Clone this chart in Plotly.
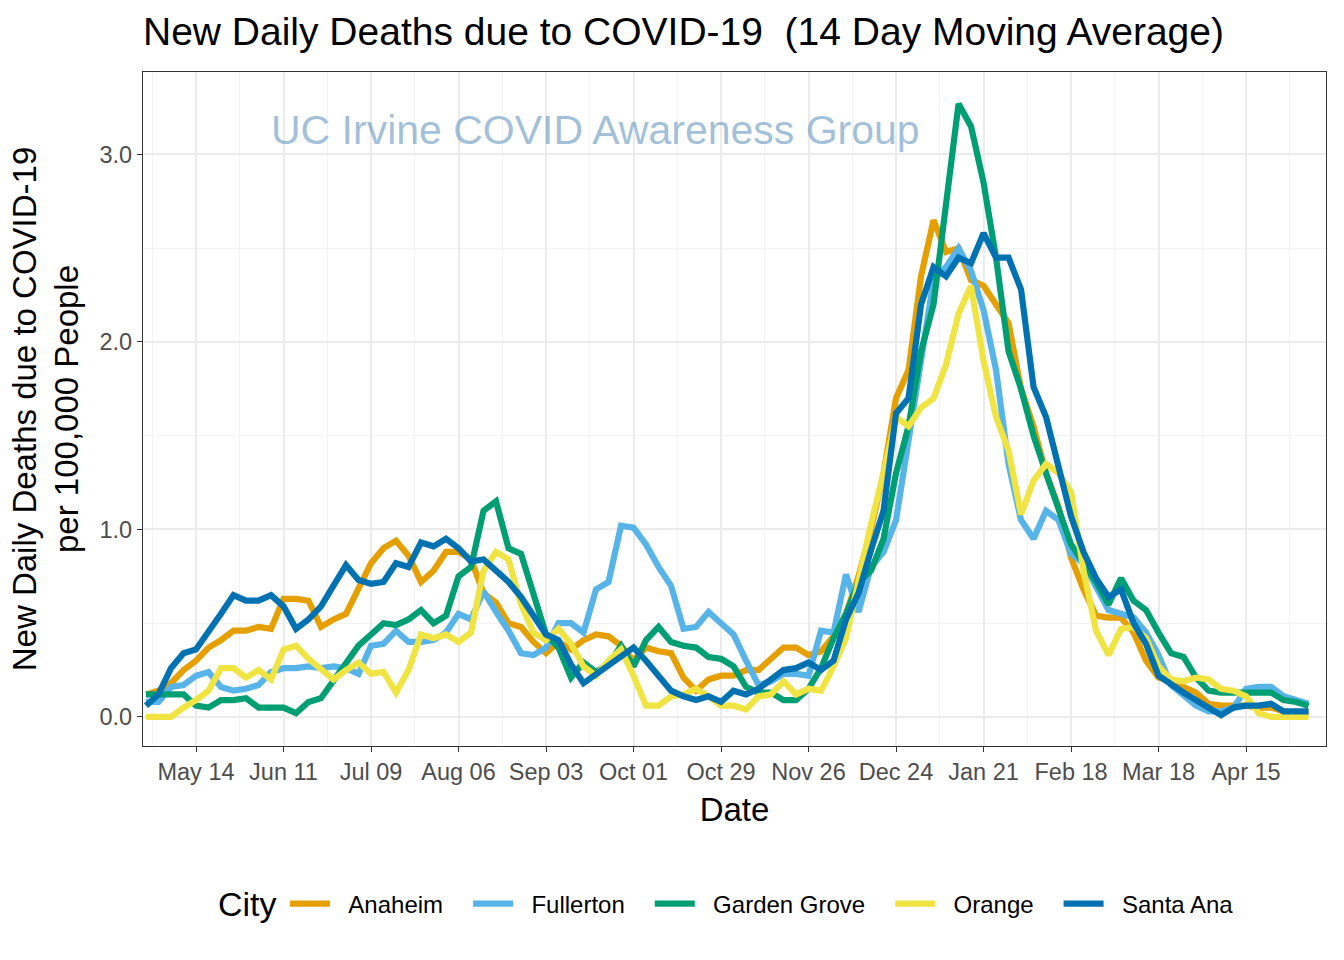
import pandas as pd
import plotly.graph_objects as go

# Sample dates (every 4 days), Apr 28 2020 .. May 5 2021
dates = pd.date_range("2020-04-28", periods=94, freq="4D")

cities = ["Anaheim", "Fullerton", "Garden Grove", "Orange", "Santa Ana"]

anaheim = [
    0.12, 0.14, 0.18, 0.25, 0.30, 0.37, 0.41, 0.46, 0.46, 0.48,
    0.47, 0.63, 0.63, 0.62, 0.48, 0.52, 0.55, 0.68, 0.82, 0.90,
    0.94, 0.86, 0.72, 0.78, 0.88, 0.88, 0.84, 0.66, 0.61, 0.50,
    0.48, 0.40, 0.34, 0.40, 0.36, 0.41, 0.44, 0.43, 0.38, 0.30,
    0.37, 0.35, 0.34, 0.21, 0.14, 0.20, 0.22, 0.22, 0.25, 0.25,
    0.31, 0.37, 0.37, 0.33, 0.35, 0.43, 0.55, 0.75, 1.00, 1.30,
    1.70, 1.85, 2.35, 2.65, 2.48, 2.50, 2.33, 2.30, 2.20, 2.10,
    1.75, 1.55, 1.30, 1.12, 0.85, 0.68, 0.54, 0.53, 0.53, 0.45,
    0.30, 0.21, 0.19, 0.16, 0.13, 0.07, 0.06, 0.06, 0.06, 0.05,
    0.05, 0.03, 0.02, 0.02,
]

fullerton = [
    0.08, 0.08, 0.16, 0.17, 0.22, 0.24, 0.16, 0.14, 0.15, 0.17,
    0.24, 0.26, 0.26, 0.27, 0.26, 0.27, 0.26, 0.23, 0.38, 0.39,
    0.46, 0.40, 0.40, 0.41, 0.45, 0.55, 0.52, 0.67, 0.56, 0.46,
    0.34, 0.33, 0.37, 0.50, 0.50, 0.45, 0.68, 0.72, 1.02, 1.01,
    0.92, 0.80, 0.70, 0.47, 0.48, 0.56, 0.50, 0.44, 0.30, 0.17,
    0.19, 0.23, 0.23, 0.22, 0.46, 0.45, 0.76, 0.56, 0.80, 0.88,
    1.05, 1.45, 1.90, 2.33, 2.40, 2.50, 2.38, 2.17, 1.85, 1.35,
    1.05, 0.95, 1.10, 1.05, 0.87, 0.82, 0.70, 0.57, 0.55, 0.53,
    0.45, 0.33, 0.17, 0.12, 0.06, 0.03, 0.03, 0.05, 0.15, 0.16,
    0.16, 0.11, 0.09, 0.07,
]

garden_grove = [
    0.12, 0.12, 0.12, 0.12, 0.06, 0.05, 0.09, 0.09, 0.10, 0.05,
    0.05, 0.05, 0.02, 0.08, 0.10, 0.19, 0.28, 0.38, 0.44, 0.50,
    0.49, 0.52, 0.57, 0.50, 0.54, 0.75, 0.80, 1.10, 1.15, 0.90,
    0.87, 0.65, 0.44, 0.37, 0.21, 0.29, 0.24, 0.28, 0.38, 0.27,
    0.41, 0.48, 0.40, 0.38, 0.37, 0.32, 0.31, 0.27, 0.16, 0.13,
    0.13, 0.09, 0.09, 0.15, 0.26, 0.42, 0.55, 0.72, 0.78, 0.95,
    1.30, 1.55, 1.95, 2.20, 2.75, 3.27, 3.15, 2.85, 2.45, 1.95,
    1.75, 1.50, 1.30, 1.10, 0.92, 0.82, 0.72, 0.60, 0.74, 0.62,
    0.57, 0.45, 0.34, 0.32, 0.21, 0.14, 0.13, 0.13, 0.13, 0.13,
    0.13, 0.09, 0.08, 0.06,
]

orange = [
    0.00, 0.00, 0.00, 0.05, 0.09, 0.14, 0.26, 0.26, 0.21, 0.25,
    0.20, 0.36, 0.38, 0.31, 0.25, 0.20, 0.25, 0.29, 0.23, 0.24,
    0.13, 0.25, 0.44, 0.42, 0.44, 0.40, 0.45, 0.78, 0.88, 0.84,
    0.60, 0.45, 0.41, 0.47, 0.39, 0.27, 0.22, 0.30, 0.36, 0.22,
    0.06, 0.06, 0.11, 0.12, 0.15, 0.11, 0.06, 0.06, 0.04, 0.11,
    0.12, 0.19, 0.12, 0.15, 0.14, 0.27, 0.42, 0.73, 1.03, 1.30,
    1.60, 1.55, 1.65, 1.70, 1.88, 2.15, 2.30, 1.90, 1.60, 1.42,
    1.08, 1.26, 1.35, 1.30, 1.20, 0.78, 0.46, 0.33, 0.47, 0.48,
    0.42, 0.27, 0.20, 0.19, 0.21, 0.20, 0.15, 0.14, 0.11, 0.02,
    0.00, 0.00, 0.00, 0.00,
]

santa_ana = [
    0.06, 0.12, 0.26, 0.34, 0.36, 0.45, 0.55, 0.65, 0.62, 0.62,
    0.65, 0.59, 0.47, 0.52, 0.59, 0.70, 0.81, 0.73, 0.71, 0.72,
    0.82, 0.80, 0.93, 0.91, 0.95, 0.90, 0.83, 0.84, 0.78, 0.72,
    0.64, 0.54, 0.44, 0.41, 0.28, 0.18, 0.23, 0.27, 0.33, 0.37,
    0.30, 0.22, 0.14, 0.11, 0.09, 0.11, 0.08, 0.14, 0.12, 0.15,
    0.20, 0.25, 0.26, 0.29, 0.25, 0.30, 0.52, 0.66, 0.89, 1.10,
    1.62, 1.70, 2.20, 2.40, 2.35, 2.45, 2.42, 2.58, 2.45, 2.45,
    2.28, 1.76, 1.60, 1.33, 1.07, 0.88, 0.74, 0.64, 0.68, 0.50,
    0.39, 0.22, 0.17, 0.13, 0.09, 0.05, 0.01, 0.05, 0.06, 0.06,
    0.07, 0.03, 0.03, 0.03,
]

series = [anaheim, fullerton, garden_grove, orange, santa_ana]
colors = ["#E69F00", "#56B4E9", "#009E73", "#F0E442", "#0072B2"]

FONT = "Liberation Sans, Arial, Helvetica, sans-serif"
NB = "\u00a0"

fig = go.Figure()
for name, vals, col in zip(cities, series, colors):
    fig.add_trace(go.Scatter(
        x=dates, y=vals, mode="lines",
        name=NB * 2 + name + NB * 3,
        line=dict(color=col, width=6.2),
    ))

fig.update_layout(
    width=1344, height=960,
    margin=dict(l=143, r=18, t=72, b=214),
    plot_bgcolor="white", paper_bgcolor="white",
    font=dict(family=FONT, color="black"),
    title=dict(
        text="New Daily Deaths due to COVID-19\u00a0 (14 Day Moving Average)",
        xref="container", x=143 / 1344, xanchor="left",
        yref="container", y=1 - 31 / 960, yanchor="middle",
        font=dict(size=39, color="black"),
    ),
    legend=dict(
        orientation="h", xref="paper", x=(285 - 143) / 1183, xanchor="left",
        y=(746 - 904) / 674, yanchor="middle",
        font=dict(size=24), itemwidth=40,
    ),
    showlegend=True,
)

fig.update_xaxes(
    type="date",
    range=["2020-04-27 01:00", "2021-05-10 14:00"],
    tick0="2020-05-14", dtick=28 * 86400000, tickformat="%b %d",
    ticks="outside", ticklen=5, tickwidth=1.3, tickcolor="#333333",
    tickfont=dict(size=23.5, color="#4D4D4D"),
    showgrid=True, gridcolor="#EBEBEB", gridwidth=2,
    minor=dict(tick0="2020-05-14", dtick=14 * 86400000, showgrid=True,
               gridcolor="#F2F2F2", gridwidth=1.2),
    showline=True, linecolor="#333333", linewidth=1.3, mirror=True,
    zeroline=False,
    title=dict(text="Date", font=dict(size=33), standoff=13),
)

fig.update_yaxes(
    range=[-0.155, 3.44],
    tick0=0, dtick=1, tickformat=".1f",
    ticks="outside", ticklen=5, tickwidth=1.3, tickcolor="#333333",
    tickfont=dict(size=23.5, color="#4D4D4D"),
    showgrid=True, gridcolor="#EBEBEB", gridwidth=2,
    minor=dict(tick0=0, dtick=0.5, showgrid=True,
               gridcolor="#F2F2F2", gridwidth=1.2),
    showline=True, linecolor="#333333", linewidth=1.3, mirror=True,
    zeroline=False,
    title=dict(text="New Daily Deaths due to COVID-19<br>per 100,000 People",
               font=dict(size=33), standoff=10),
)

fig.add_annotation(
    text="UC Irvine COVID Awareness Group",
    xref="paper", yref="paper",
    x=(595.5 - 143) / 1183, y=(746 - 130) / 674,
    xanchor="center", yanchor="middle", showarrow=False,
    font=dict(size=41, color="rgba(70,130,180,0.5)", family=FONT),
)

# Legend title "City"
fig.add_annotation(
    text="City",
    xref="paper", yref="paper",
    x=(247 - 143) / 1183, y=(746 - 904) / 674,
    xanchor="center", yanchor="middle", showarrow=False,
    font=dict(size=34, color="black", family=FONT),
)

fig.write_html("out.html", config={"displayModeBar": False},
               post_script="document.body.style.margin='0';")
